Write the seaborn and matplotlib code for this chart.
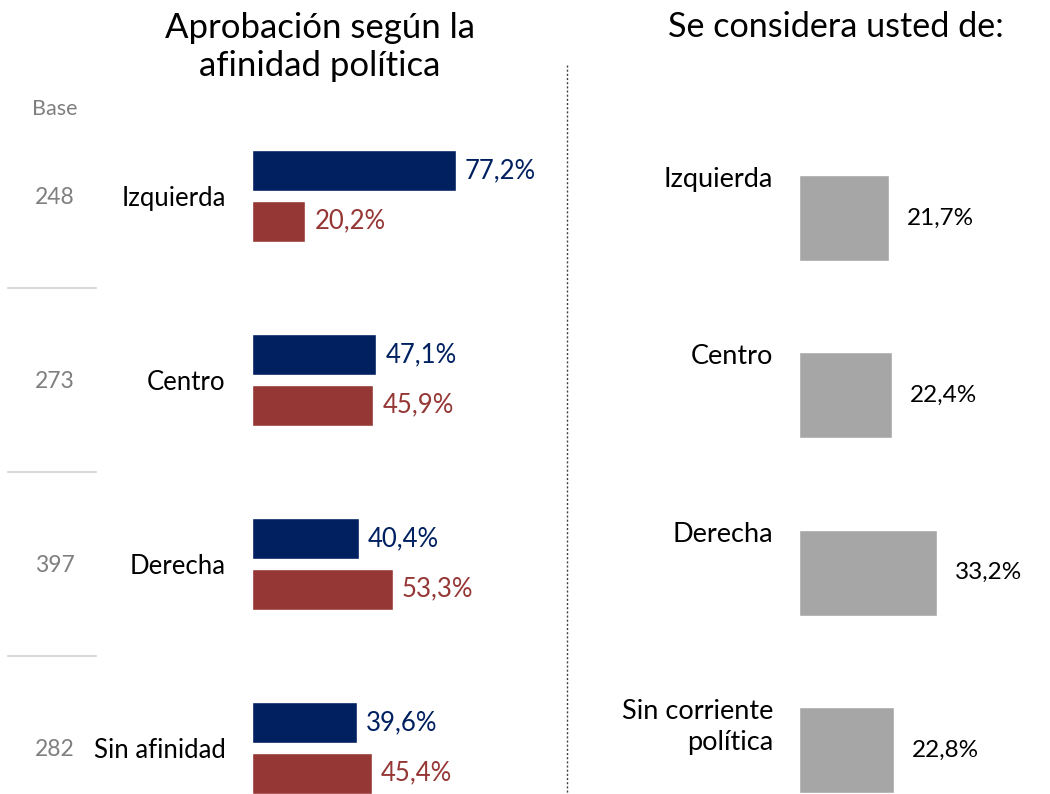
import numpy as np
import pandas as pd
import matplotlib
matplotlib.use("Agg")
import matplotlib.pyplot as plt
import matplotlib.transforms as mtransforms
from matplotlib.lines import Line2D
import seaborn as sns

# ---------------- data ----------------
afinidad = ["Izquierda", "Centro", "Derecha", "Sin afinidad"]
base = [248, 273, 397, 282]
aprueba = [77.2, 47.1, 40.4, 39.6]
desaprueba = [20.2, 45.9, 53.3, 45.4]

corriente = ["Izquierda", "Centro", "Derecha", "Sin corriente\npolítica"]
corriente_pct = [21.7, 22.4, 33.2, 22.8]

title_left = "Aprobación según la\nafinidad política"
title_right = "Se considera usted de:"

NAVY = "#002060"
RED = "#953735"
GRAY = "#A6A6A6"
BASEGRAY = "#7F7F7F"

sns.set_theme(style="white")
plt.rcParams["font.family"] = ["Lato", "DejaVu Sans"]

W, H = 1050, 794
fig = plt.figure(figsize=(W / 100, H / 100), dpi=100)


def fx(px):
    return px / W


def fy(py):
    return 1 - py / H


def fmt(v):
    return f"{v:.1f}%".replace(".", ",")


# ---------------- left panel ----------------
axL_top, axL_bot = 104, 840
axL = fig.add_axes([fx(252), fy(axL_bot), fx(567) - fx(252), (axL_bot - axL_top) / H])
df = pd.DataFrame({
    "cat": afinidad * 2,
    "serie": ["Aprueba"] * 4 + ["Desaprueba"] * 4,
    "valor": aprueba + desaprueba,
})
sns.barplot(data=df, x="valor", y="cat", hue="serie", order=afinidad,
            hue_order=["Aprueba", "Desaprueba"], palette=[NAVY, RED],
            orient="h", width=0.544, gap=0.18, legend=False, ax=axL,
            saturation=1, errorbar=None)
axL.set_xlim(0, 315 / 2.642)
axL.set_ylim(3.5, -0.5)
for cont, vals, col in zip(axL.containers, [aprueba, desaprueba], [NAVY, RED]):
    axL.bar_label(cont, labels=[fmt(v) for v in vals], padding=6.5,
                  color=col, fontsize=18.5)
axL.set_yticks(range(len(afinidad)), afinidad)
axL.tick_params(axis="y", length=0, pad=19, labelsize=18.5, labelcolor="black")
axL.set_xticks([])
axL.set_xlabel("")
axL.set_ylabel("")
for s in axL.spines.values():
    s.set_visible(False)
axL.patch.set_alpha(0)

# base numbers and separators
trL = mtransforms.blended_transform_factory(fig.transFigure, axL.transData)
for i, b in enumerate(base):
    axL.text(fx(55), i + 0.01, str(b), transform=trL, ha="center", va="center",
             color=BASEGRAY, fontsize=16.5)
for i in range(len(afinidad) - 1):
    axL.add_line(Line2D([fx(8), fx(96)], [i + 0.5, i + 0.5], transform=trL,
                        color="#D9D9D9", lw=1.5, clip_on=False))
fig.text(fx(55), fy(109), "Base", ha="center", va="center", color=BASEGRAY, fontsize=15.5)

# ---------------- right panel ----------------
axR_top, axR_bot = 129.3, 838.7
axR = fig.add_axes([fx(799), fy(axR_bot), fx(1050) - fx(799), (axR_bot - axR_top) / H])
dfr = pd.DataFrame({"cat": corriente, "valor": corriente_pct})
sns.barplot(data=dfr, x="valor", y="cat", order=corriente, color=GRAY,
            orient="h", width=0.485, ax=axR, saturation=1, errorbar=None)
axR.set_xlim(0, 251 / 4.155)
axR.set_ylim(3.5, -0.5)
axR.bar_label(axR.containers[0], labels=[fmt(v) for v in corriente_pct],
              padding=13, color="black", fontsize=17.5)
axR.set_yticks([])
axR.set_xticks([])
axR.set_xlabel("")
axR.set_ylabel("")
for s in axR.spines.values():
    s.set_visible(False)
axR.patch.set_alpha(0)
trR = mtransforms.blended_transform_factory(fig.transFigure, axR.transData)
for i, c in enumerate(corriente):
    axR.text(fx(773), i - 0.485 / 2 - 0.045, c, transform=trR, ha="right", va="top",
             fontsize=19.5, color="black", linespacing=1.3, clip_on=False)

# ---------------- titles & divider ----------------
fig.text(fx(320), fy(47), title_left, ha="center", va="center", fontsize=25,
         linespacing=1.22, color="black")
fig.text(fx(836), fy(27), title_right, ha="center", va="center", fontsize=24.6,
         color="black")
fig.add_artist(Line2D([fx(567), fx(567)], [fy(65), fy(794)], transform=fig.transFigure,
                      color="#404040", lw=1, linestyle=(0, (1.5, 1.5))))

fig.savefig("out.png", dpi=100)
